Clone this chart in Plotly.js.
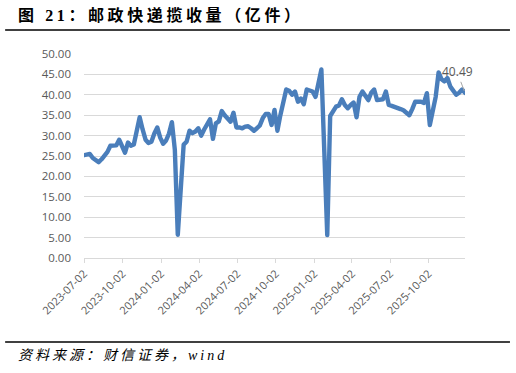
<!DOCTYPE html>
<html>
<head>
<meta charset="utf-8">
<script src="https://cdn.plot.ly/plotly-3.0.1.min.js"></script>
<style>
html,body{margin:0;padding:0;background:#fff;}
#chart{width:516px;height:373px;}
#chart .scatterlayer path.js-line{stroke-linejoin:round !important;stroke-linecap:round !important;}
</style>
</head>
<body>
<div id="chart"></div>
<script>
const titleText = "图 21：邮政快递揽收量（亿件）";
const sourceText = "资料来源：财信证券，wind";

const weeks = [
"2023-07-02","2023-07-09","2023-07-16","2023-07-23","2023-07-30","2023-08-06","2023-08-13","2023-08-20","2023-08-27",
"2023-09-03","2023-09-10","2023-09-17","2023-09-24","2023-10-01","2023-10-08","2023-10-15","2023-10-22","2023-10-29",
"2023-11-05","2023-11-12","2023-11-19","2023-11-26","2023-12-03","2023-12-10","2023-12-17","2023-12-24","2023-12-31",
"2024-01-07","2024-01-14","2024-01-21","2024-01-28","2024-02-04","2024-02-11","2024-02-18","2024-02-25",
"2024-03-03","2024-03-10","2024-03-17","2024-03-24","2024-03-31","2024-04-07","2024-04-14","2024-04-21","2024-04-28",
"2024-05-05","2024-05-12","2024-05-19","2024-05-26","2024-06-02","2024-06-09","2024-06-16","2024-06-23","2024-06-30",
"2024-07-07","2024-07-14","2024-07-21","2024-07-28","2024-08-04","2024-08-11","2024-08-18","2024-08-25",
"2024-09-01","2024-09-08","2024-09-15","2024-09-22","2024-09-29","2024-10-06","2024-10-13","2024-10-20","2024-10-27",
"2024-11-03","2024-11-10","2024-11-17","2024-11-24","2024-12-01","2024-12-08","2024-12-15","2024-12-22","2024-12-29",
"2025-01-05","2025-01-12","2025-01-19","2025-01-26","2025-02-02","2025-02-09","2025-02-16","2025-02-23",
"2025-03-02","2025-03-09","2025-03-16","2025-03-23","2025-03-30","2025-04-06","2025-04-13","2025-04-20","2025-04-27",
"2025-05-04","2025-05-11","2025-05-18","2025-05-25","2025-06-01","2025-06-08","2025-06-15","2025-06-22","2025-06-29",
"2025-07-06","2025-07-13","2025-07-20","2025-07-27","2025-08-03","2025-08-10","2025-08-17","2025-08-24","2025-08-31",
"2025-09-07","2025-09-14","2025-09-21","2025-09-28","2025-10-05","2025-10-12","2025-10-19","2025-10-26",
"2025-11-02","2025-11-09","2025-11-16","2025-11-23","2025-11-30","2025-12-07","2025-12-14","2025-12-21","2025-12-28"
];

const volume = [
25.2,25.3,25.5,24.5,24.0,23.5,24.2,25.0,26.0,
27.5,27.5,27.6,29.0,27.5,25.8,28.3,27.5,27.8,
31.5,34.5,31.5,29.0,28.2,28.5,30.5,32.0,29.5,
28.0,28.8,30.5,33.3,26.5,5.7,16.0,27.8,
28.5,31.2,30.6,31.0,31.8,30.0,31.5,33.0,34.0,
29.2,33.0,33.5,36.0,35.0,34.0,33.4,35.6,32.0,
32.0,31.8,32.2,32.3,31.8,31.2,31.8,32.5,
34.3,35.3,35.3,32.6,36.3,31.2,35.0,37.8,41.3,
41.0,40.0,40.8,38.3,39.1,37.7,41.3,41.0,40.8,
39.5,43.0,46.2,26.0,5.6,34.8,36.0,37.1,
37.4,38.9,37.5,36.7,37.5,38.1,34.5,39.5,40.8,
39.5,38.7,40.5,41.3,38.7,38.8,38.9,40.8,37.5,
37.3,37.1,36.8,36.5,36.2,35.5,35.0,36.5,38.3,
38.3,38.3,38.0,40.4,32.6,36.0,39.5,45.5,
43.8,43.3,44.1,42.0,40.8,40.0,40.5,41.3,40.49
];

const xTickVals = ["2023-07-02","2023-10-02","2024-01-02","2024-04-02","2024-07-02","2024-10-02","2025-01-02","2025-04-02","2025-07-02","2025-10-02"];
const yTickVals = [0,5,10,15,20,25,30,35,40,45,50];
const yTickText = yTickVals.map(v => v.toFixed(2));

const lastIdx = volume.length - 1;

const trace = {
  x: weeks,
  y: volume,
  type: 'scatter',
  mode: 'lines',
  line: {color: '#4a7ebb', width: 4.4, shape: 'linear'},
  hoverinfo: 'x+y'
};

const fontTick = {family: '"Open Sans", "Noto Sans", sans-serif', size: 11.5, color: '#595959'};
const serifCJK = '"Liberation Serif", "Noto Sans CJK SC", serif';

const layout = {
  width: 516, height: 373,
  margin: {l: 84, r: 51, t: 54, b: 115},
  paper_bgcolor: '#ffffff',
  plot_bgcolor: '#ffffff',
  showlegend: false,
  xaxis: {
    type: 'date',
    range: [weeks[0], weeks[lastIdx]],
    tickmode: 'array',
    tickvals: xTickVals,
    ticktext: xTickVals,
    tickangle: -45,
    tickfont: {family: '"Open Sans", "Noto Sans", sans-serif', size: 11, color: '#595959'},
    showgrid: false,
    zeroline: false,
    showline: true,
    linecolor: '#d9d9d9',
    linewidth: 1,
    ticks: 'outside',
    ticklen: 4,
    tickcolor: '#d9d9d9',
    fixedrange: true
  },
  yaxis: {
    range: [0, 50],
    tickmode: 'array',
    tickvals: yTickVals,
    ticktext: yTickText,
    tickfont: fontTick,
    showgrid: true,
    gridcolor: '#d9d9d9',
    gridwidth: 1,
    zeroline: false,
    showline: false,
    ticks: '',
    ticklabelstandoff: 12,
    fixedrange: true
  },
  shapes: [
    {type: 'line', xref: 'paper', yref: 'paper', x0: -0.207, x1: 1.118, y0: 1.118, y1: 1.118,
     line: {color: '#000000', width: 1.6}},
    {type: 'line', xref: 'paper', yref: 'paper', x0: -0.207, x1: 1.118, y0: -0.412, y1: -0.412,
     line: {color: '#000000', width: 1.6}}
  ],
  annotations: [
    {text: '<b>' + titleText + '</b>', xref: 'paper', yref: 'paper', x: -0.178, y: 1.19,
     xanchor: 'left', yanchor: 'middle', align: 'left', showarrow: false,
     font: {family: serifCJK, size: 16, color: '#000000'}},
    {text: '<i>' + sourceText + '</i>', xref: 'paper', yref: 'paper', x: -0.178, y: -0.48,
     xanchor: 'left', yanchor: 'middle', align: 'left', showarrow: false,
     font: {family: serifCJK, size: 14, color: '#000000'}},
    {text: volume[lastIdx].toFixed(2), x: weeks[lastIdx], y: volume[lastIdx], xref: 'x', yref: 'y',
     showarrow: true, arrowhead: 0, arrowwidth: 1, arrowcolor: '#a6a6a6',
     ax: -8, ay: -21, standoff: 2,
     font: {family: '"Open Sans", "Noto Sans", sans-serif', size: 12, color: '#595959'}}
  ]
};

Plotly.newPlot('chart', [trace], layout, {displayModeBar: false, staticPlot: true}).then(function (gd) {
  const texts = gd.querySelectorAll('.annotation-text');
  if (texts[0]) { texts[0].style.letterSpacing = '3.6px'; }
  if (texts[1]) { texts[1].style.letterSpacing = '3px'; }
});
</script>
</body>
</html>
